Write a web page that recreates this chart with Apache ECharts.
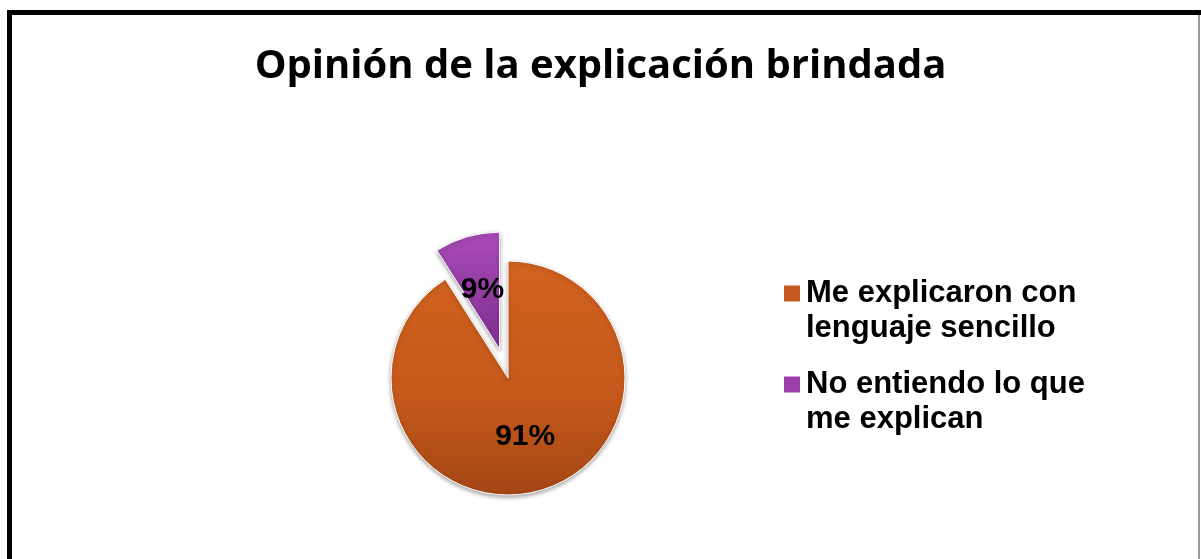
<!DOCTYPE html>
<html>
<head>
<meta charset="utf-8">
<script src="https://cdn.jsdelivr.net/npm/echarts@6/dist/echarts.min.js"></script>
<style>
html,body{margin:0;padding:0;background:#fff;}
#chart{width:1201px;height:559px;}
</style>
</head>
<body>
<div id="chart"></div>
<script>
const titleText = 'Opinión de la explicación brindada';
const categories = ['Me explicaron con\nlenguaje sencillo', 'No entiendo lo que\nme explican'];
const values = [91, 9];
const labels = ['91%', '9%'];

const colors = [
  {type:'linear',x:0,y:0,x2:0,y2:1,colorStops:[{offset:0,color:'#D2621F'},{offset:0.6,color:'#C4581B'},{offset:1,color:'#A34616'}]},
  {type:'linear',x:0,y:0,x2:0,y2:1,colorStops:[{offset:0,color:'#A94BB8'},{offset:1,color:'#7E2E8E'}]}
];
const legendColors = ['#C65A1E', '#9A40A8'];

const chart = echarts.init(document.getElementById('chart'));
chart.setOption({
  backgroundColor: '#fff',
  animation: false,
  title: {
    text: titleText,
    left: 'center',
    top: 42,
    textStyle: {fontFamily: 'Open Sans', fontWeight: 'bold', fontSize: 40, color: '#000'}
  },
  legend: {
    orient: 'vertical',
    left: 777,
    top: 236,
    icon: 'rect',
    itemWidth: 18,
    itemHeight: 18,
    itemGap: -14,
    selectedMode: false,
    data: categories.map((c, i) => ({name: c, itemStyle: {color: legendColors[i]}})),
    formatter: name => '\n' + name,
    textStyle: {fontFamily: 'Liberation Sans', fontWeight: 'bold', fontSize: 31, color: '#000', lineHeight: 35}
  },
  graphic: [
    {type: 'rect', shape: {x: 7, y: 10, width: 1194, height: 5}, style: {fill: '#000'}},
    {type: 'rect', shape: {x: 7, y: 10, width: 5, height: 549}, style: {fill: '#000'}},
    {type: 'rect', shape: {x: 1198, y: 15, width: 2, height: 544}, style: {fill: '#999'}}
  ],
  series: [{
    type: 'pie',
    center: [508, 378],
    radius: 117,
    startAngle: 90,
    clockwise: true,
    selectedMode: 'single',
    selectedOffset: 30,
    label: {
      show: true,
      position: 'inner',
      formatter: p => labels[p.dataIndex],
      fontFamily: 'Liberation Sans',
      fontWeight: 'bold',
      fontSize: 30,
      color: '#000'
    },
    labelLine: {show: false},
    itemStyle: {borderColor: '#fff', borderWidth: 1, shadowBlur: 4, shadowColor: 'rgba(0,0,0,0.35)', shadowOffsetY: 2},
    emphasis: {disabled: true},
    data: categories.map((c, i) => ({name: c, value: values[i], selected: i === 1, itemStyle: {color: colors[i]}}))
  }]
});
</script>
</body>
</html>
